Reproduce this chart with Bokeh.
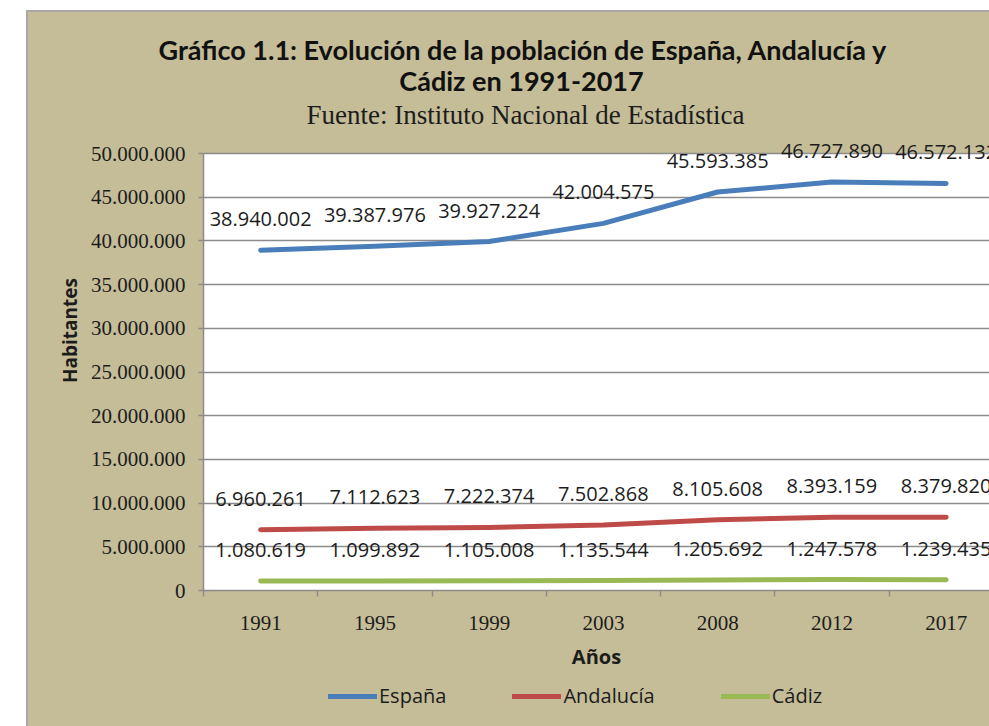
from bokeh.plotting import figure
from bokeh.models import (ColumnDataSource, Range1d, FixedTicker, CustomJSTickFormatter,
                          LabelSet, Label, Legend, LegendItem, Spacer, BoxAnnotation)
from bokeh.layouts import row, column
from bokeh.core.properties import value
from bokeh.embed import file_html
from bokeh.resources import INLINE

# ---- data ----
years = ["1991", "1995", "1999", "2003", "2008", "2012", "2017"]
espana = [38940002, 39387976, 39927224, 42004575, 45593385, 46727890, 46572132]
andalucia = [6960261, 7112623, 7222374, 7502868, 8105608, 8393159, 8379820]
cadiz = [1080619, 1099892, 1105008, 1135544, 1205692, 1247578, 1239435]
y_ticks = [0, 5000000, 10000000, 15000000, 20000000, 25000000,
           30000000, 35000000, 40000000, 45000000, 50000000]
series_names = ["España", "Andalucía", "Cádiz"]
title_lines = ["Gráfico 1.1: Evolución de la población de España, Andalucía y",
               "Cádiz en 1991-2017"]
subtitle = "Fuente: Instituto Nacional de Estadística"

KHAKI = "#c4bd97"
GRID = "#8c8c8c"
TXT = "#1c1c1c"
BORDER = "#a8a8a8"
COLORS = ["#4a7ebb", "#be4b48", "#98b954"]

# page geometry (page pixels)
BOX_X, BOX_Y = 28, 12          # top-left corner of khaki box
FRAME_LEFT = 203
FRAME_TOP = 70                 # frame extends above the white area (for labels)
Y50_PAGE, Y0_PAGE = 153, 590   # page y of 50M and 0
PAGE_W, PAGE_H = 989, 726
LEG_TOP = 680                  # page y where legend strip starts
CAT_PX = 114.25

W = PAGE_W - BOX_X
H_MAIN = LEG_TOP - BOX_Y
H_LEG = PAGE_H - LEG_TOP
LEFT = FRAME_LEFT - BOX_X
TOP = FRAME_TOP - BOX_Y
BOTTOM = LEG_TOP - Y0_PAGE
YMAX = y_ticks[-1]
px_per_unit = (Y0_PAGE - Y50_PAGE) / YMAX
y_top = (Y0_PAGE - FRAME_TOP) / px_per_unit
idx = list(range(len(years)))
x_end = -0.5 + (W - LEFT) / CAT_PX

p = figure(width=W, height=H_MAIN, output_backend="svg", toolbar_location=None,
           x_range=Range1d(-0.5, x_end), y_range=Range1d(0, y_top),
           title=title_lines[0],
           min_border_left=LEFT, min_border_right=0, min_border_top=TOP,
           min_border_bottom=BOTTOM,
           background_fill_color=None, border_fill_color=None,
           outline_line_color=None, styles={"background-color": KHAKI})

# first title line sits above the frame (it reaches left of the plot area)
p.title.align = "left"
p.title.offset = -45
p.title.standoff = 10
p.title.text_font = "Lato"
p.title.text_font_style = "bold"
p.title.text_font_size = "27px"
p.title.text_color = "#111111"

# white plot area (0 .. max tick)
p.add_layout(BoxAnnotation(bottom=0, top=YMAX, fill_color="white", fill_alpha=1,
                           line_color=None, level="image"))

# axes
p.xaxis.ticker = FixedTicker(ticks=idx, minor_ticks=[i - 0.5 for i in range(len(years) + 1)])
p.xaxis.major_label_overrides = {i: y for i, y in enumerate(years)}
p.xaxis.major_tick_out = 0
p.xaxis.major_tick_in = 0
p.xaxis.minor_tick_out = 6
p.xaxis.minor_tick_in = 0
p.xaxis.minor_tick_line_color = GRID
p.xaxis.minor_tick_line_width = 1.5
p.xaxis.major_label_standoff = 19
p.xaxis.axis_label = "Años"
p.xaxis.axis_label_standoff = 10

p.yaxis.ticker = FixedTicker(ticks=y_ticks, minor_ticks=[])
p.yaxis.bounds = (0, YMAX)
p.yaxis.formatter = CustomJSTickFormatter(
    code="return Math.round(tick).toString().replace(/\\B(?=(\\d{3})+(?!\\d))/g, '.');")
p.yaxis.major_tick_out = 5
p.yaxis.major_tick_in = 0
p.yaxis.major_label_standoff = 13
p.yaxis.axis_label = "Habitantes"
p.yaxis.axis_label_standoff = 5

for ax in (p.xaxis, p.yaxis):
    ax.axis_line_color = GRID
    ax.axis_line_width = 1.5
    ax.major_tick_line_color = GRID
    ax.major_tick_line_width = 1.5
    ax.major_label_text_font = "Liberation Serif"
    ax.major_label_text_font_size = "21px"
    ax.major_label_text_color = TXT
    ax.axis_label_text_font = "Open Sans"
    ax.axis_label_text_font_style = "bold"
    ax.axis_label_text_color = TXT
p.xaxis.axis_label_text_font_size = "20px"
p.yaxis.axis_label_text_font_size = "19px"

p.xgrid.visible = False
p.ygrid.grid_line_color = GRID
p.ygrid.grid_line_width = 1.5

# lines + value labels
sources = []
for name, vals, col in zip(series_names, [espana, andalucia, cadiz], COLORS):
    src = ColumnDataSource(dict(x=idx, y=vals,
                                txt=[f"{v:,}".replace(",", ".") for v in vals]))
    sources.append(src)
    p.line("x", "y", source=src, line_color=col, line_width=5, line_cap="round",
           line_join="round")
    p.add_layout(LabelSet(x="x", y="y", text="txt", source=src, y_offset=31,
                          text_align="center", text_baseline="middle",
                          text_font=value("Open Sans"), text_font_size="20px",
                          text_color=TXT))

# second title line and source line (inside the khaki band of the frame)
def yv(page_y):
    return (Y0_PAGE - page_y) / px_per_unit
def xv(page_x):
    return -0.5 + (page_x - FRAME_LEFT) / CAT_PX

p.add_layout(Label(x=xv(521), y=yv(80), text=title_lines[1],
                   text_align="center", text_baseline="alphabetic",
                   text_font="Lato", text_font_style="bold", text_font_size="27px",
                   text_color="#111111"))
p.add_layout(Label(x=xv(525), y=yv(114), text=subtitle,
                   text_align="center", text_baseline="alphabetic",
                   text_font="Liberation Serif", text_font_size="27px",
                   text_color=TXT))

# legend strip: a small figure below, same series (outside its visible range)
pl = figure(width=W, height=H_LEG, output_backend="svg", toolbar_location=None,
            x_range=Range1d(-0.5, x_end), y_range=Range1d(-2, -1),
            min_border_left=LEFT, min_border_right=0, min_border_top=0, min_border_bottom=0,
            background_fill_color=None, border_fill_color=None, outline_line_color=None,
            styles={"background-color": KHAKI})
pl.axis.visible = False
pl.grid.visible = False
items = []
for name, src, col in zip(series_names, sources, COLORS):
    r = pl.line("x", "y", source=src, line_color=col, line_width=5, line_cap="round")
    items.append(LegendItem(label=name, renderers=[r]))
legend = Legend(items=items, location=(328 - FRAME_LEFT, PAGE_H - 709), orientation="horizontal",
                background_fill_alpha=0, border_line_color=None, padding=0, margin=0,
                glyph_width=49, glyph_height=20, label_standoff=2, spacing=66,
                label_text_font="Open Sans", label_text_font_size="20px",
                label_text_color=TXT)
pl.add_layout(legend)

layout = column(
    Spacer(height=BOX_Y - 2, width=PAGE_W),
    Spacer(height=2, width=PAGE_W - BOX_X + 2,
           styles={"background-color": BORDER, "margin-left": f"{BOX_X - 2}px"}),
    row(Spacer(width=BOX_X - 2, height=H_MAIN + H_LEG),
        Spacer(width=2, height=H_MAIN + H_LEG, styles={"background-color": BORDER}),
        column(p, pl)))

open("out.html", "w").write(file_html(layout, INLINE))
